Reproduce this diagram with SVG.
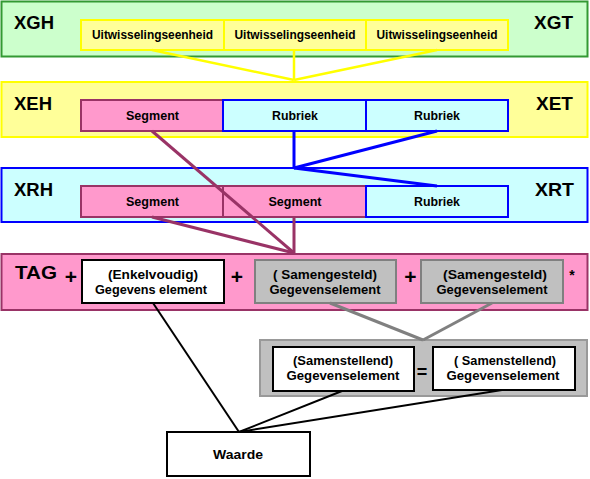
<svg xmlns="http://www.w3.org/2000/svg" width="590" height="479" viewBox="0 0 590 479">
<style>
text{font-family:"Liberation Sans",Arial,sans-serif;font-weight:bold;fill:#000;}
.big{font-size:18px;}
.sm{font-size:12px;text-anchor:middle;}
.op{font-size:21px;text-anchor:middle;}
.green{fill:#CCFFCC;stroke:#339933;stroke-width:2;}
.yel{fill:#FFFF99;stroke:#FFFF00;stroke-width:2;}
.blue{fill:#CCFFFF;stroke:#0000FF;stroke-width:2;}
.pink{fill:#FF99CC;stroke:#993366;stroke-width:2;}
.grey{fill:#C0C0C0;stroke:#808080;stroke-width:2;}
.greyband{fill:#C0C0C0;stroke:#999999;stroke-width:2;}
.white{fill:#FFFFFF;stroke:#000000;stroke-width:2;}
</style>
<g id="band-xg">
<rect class="green" x="1.5" y="1.5" width="586" height="55"/>
<text class="big" x="14" y="29" textLength="40" lengthAdjust="spacingAndGlyphs">XGH</text>
<text class="big" x="534" y="29" textLength="39" lengthAdjust="spacingAndGlyphs">XGT</text>
</g>
<g id="uitw1"><rect class="yel" x="81" y="20" width="143" height="30"/><text class="sm" x="152.5" y="39" textLength="121" lengthAdjust="spacingAndGlyphs">Uitwisselingseenheid</text></g>
<g id="uitw2"><rect class="yel" x="224" y="20" width="142" height="30"/><text class="sm" x="295" y="39" textLength="121" lengthAdjust="spacingAndGlyphs">Uitwisselingseenheid</text></g>
<g id="uitw3"><rect class="yel" x="366" y="20" width="142" height="30"/><text class="sm" x="437" y="39" textLength="121" lengthAdjust="spacingAndGlyphs">Uitwisselingseenheid</text></g>

<g id="band-xe">
<rect class="yel" x="1.5" y="82" width="586" height="55"/>
<text class="big" x="14" y="110" textLength="38" lengthAdjust="spacingAndGlyphs">XEH</text>
<text class="big" x="536" y="110" textLength="37" lengthAdjust="spacingAndGlyphs">XET</text>
</g>
<g id="xe-segment"><rect class="pink" x="81" y="100" width="142" height="31"/><text class="sm" x="152.5" y="120" textLength="53" lengthAdjust="spacingAndGlyphs">Segment</text></g>
<g id="xe-rubriek1"><rect class="blue" x="223" y="100" width="143" height="31"/><text class="sm" x="295" y="120" textLength="46" lengthAdjust="spacingAndGlyphs">Rubriek</text></g>
<g id="xe-rubriek2"><rect class="blue" x="366" y="100" width="142" height="31"/><text class="sm" x="437" y="120" textLength="46" lengthAdjust="spacingAndGlyphs">Rubriek</text></g>

<g id="band-xr">
<rect class="blue" x="1.5" y="168" width="586" height="54"/>
<text class="big" x="14" y="196" textLength="39" lengthAdjust="spacingAndGlyphs">XRH</text>
<text class="big" x="535" y="196" textLength="39" lengthAdjust="spacingAndGlyphs">XRT</text>
</g>
<g id="xr-segment1"><rect class="pink" x="81" y="186" width="142" height="31"/><text class="sm" x="152.5" y="206" textLength="53" lengthAdjust="spacingAndGlyphs">Segment</text></g>
<g id="xr-segment2"><rect class="pink" x="223" y="186" width="143" height="31"/><text class="sm" x="295" y="206" textLength="53" lengthAdjust="spacingAndGlyphs">Segment</text></g>
<g id="xr-rubriek"><rect class="blue" x="366" y="186" width="142" height="31"/><text class="sm" x="437" y="206" textLength="46" lengthAdjust="spacingAndGlyphs">Rubriek</text></g>

<g id="band-tag">
<rect class="pink" x="1.5" y="254" width="586" height="56"/>
<text class="big" x="15" y="279" textLength="42" lengthAdjust="spacingAndGlyphs">TAG</text>
<text class="op" x="71" y="284">+</text>
<text class="op" x="237" y="284">+</text>
<text class="op" x="410.5" y="284">+</text>
<text x="572" y="280" style="font-size:14px;text-anchor:middle;">*</text>
</g>
<g id="enkelvoudig"><rect class="white" x="82" y="260" width="142" height="43"/>
<text class="sm" x="153" y="279" textLength="90" lengthAdjust="spacingAndGlyphs">(Enkelvoudig)</text>
<text class="sm" x="151" y="294" textLength="112" lengthAdjust="spacingAndGlyphs">Gegevens element</text></g>
<g id="samengesteld1"><rect class="grey" x="255" y="260" width="141" height="43"/>
<text class="sm" x="325" y="279" textLength="104" lengthAdjust="spacingAndGlyphs">( Samengesteld)</text>
<text class="sm" x="325" y="294" textLength="111" lengthAdjust="spacingAndGlyphs">Gegevenselement</text></g>
<g id="samengesteld2"><rect class="grey" x="421" y="260" width="142" height="43"/>
<text class="sm" x="495" y="279" textLength="104" lengthAdjust="spacingAndGlyphs">(Samengesteld)</text>
<text class="sm" x="492" y="294" textLength="111" lengthAdjust="spacingAndGlyphs">Gegevenselement</text></g>

<g id="band-samenstellend">
<rect class="greyband" x="260" y="340" width="327" height="56"/>
<text x="422" y="378" style="font-size:18px;text-anchor:middle;">=</text>
</g>
<g id="samenstellend1"><rect class="white" x="273" y="347" width="141" height="44"/>
<text class="sm" x="343" y="365" textLength="100" lengthAdjust="spacingAndGlyphs">(Samenstellend)</text>
<text class="sm" x="343" y="380" textLength="113" lengthAdjust="spacingAndGlyphs">Gegevenselement</text></g>
<g id="samenstellend2"><rect class="white" x="433" y="347" width="142" height="43"/>
<text class="sm" x="505" y="365" textLength="102" lengthAdjust="spacingAndGlyphs">( Samenstellend)</text>
<text class="sm" x="503" y="380" textLength="113" lengthAdjust="spacingAndGlyphs">Gegevenselement</text></g>

<g id="waarde"><rect class="white" x="167" y="432" width="143" height="44"/>
<text class="sm" x="238" y="459" textLength="50" lengthAdjust="spacingAndGlyphs">Waarde</text></g>

<g id="connectors" fill="none">
<g stroke="#FFFF00" stroke-width="2.5">
<line x1="152" y1="50" x2="294" y2="80"/>
<line x1="294" y1="50" x2="294" y2="80"/>
<line x1="437" y1="50" x2="294" y2="80"/>
</g>
<g stroke="#0000FF" stroke-width="3">
<line x1="294" y1="131" x2="294" y2="168"/>
<line x1="437" y1="131" x2="294" y2="168"/>
<line x1="294" y1="168" x2="437" y2="186"/>
</g>
<g stroke="#993366" stroke-width="3">
<line x1="152" y1="131" x2="294" y2="253"/>
<line x1="152" y1="217" x2="294" y2="253"/>
<line x1="294" y1="217" x2="294" y2="253"/>
</g>
<g stroke="#808080" stroke-width="3">
<line x1="330" y1="303" x2="423" y2="340"/>
<line x1="492" y1="303" x2="423" y2="340"/>
</g>
<g stroke="#000000" stroke-width="2">
<line x1="153" y1="303" x2="239" y2="432"/>
<line x1="342" y1="391" x2="239" y2="432"/>
<line x1="502" y1="390" x2="239" y2="432"/>
</g>
</g>
</svg>
